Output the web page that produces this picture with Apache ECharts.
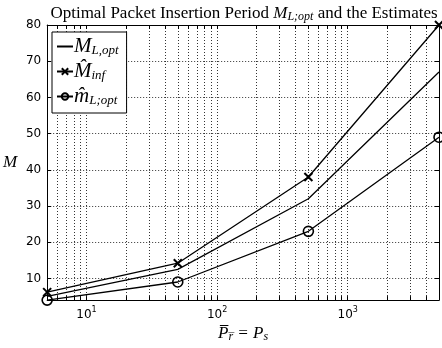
<!DOCTYPE html>
<html><head><meta charset="utf-8">
<script src="https://cdn.jsdelivr.net/npm/echarts@6/dist/echarts.min.js"></script>
<style>html,body{margin:0;padding:0;background:#fff}#c{width:442px;height:348px}</style>
</head><body><div id="c"></div>
<script>
// ---- data ----
const xValues = [5, 50, 500, 5000];
const mOpt = [5, 12.5, 32, 67];
const mInf = [6.2, 14.2, 38, 80];
const mHat = [4, 9, 23, 49];
const yTicks = [10, 20, 30, 40, 50, 60, 70, 80];
const xMajorTicks = [10, 100, 1000];
const xAllTicks = [6, 7, 8, 9, 10, 20, 30, 40, 50, 60, 70, 80, 90, 100, 200, 300, 400, 500, 600, 700, 800, 900, 1000, 2000, 3000, 4000];
const seriesNames = ['Mopt', 'Minf', 'mhat'];

const SERIF = "'Liberation Serif','DejaVu Serif',serif";
const SANS = "'DejaVu Sans','Liberation Sans',sans-serif";

function pairs(ys) { return xValues.map((x, i) => [x, ys[i]]); }

const chart = echarts.init(document.getElementById('c'), null, {renderer: 'canvas'});

const dotted = {type: [1, 2], color: '#333', width: 1};
const mathRich = {
  r: {fontFamily: SERIF, fontWeight: 'normal', fontSize: 17, color: '#000'},
  i: {fontFamily: SERIF, fontWeight: 'normal', fontStyle: 'italic', fontSize: 17, color: '#000'},
  s: {fontFamily: SERIF, fontWeight: 'normal', fontStyle: 'italic', fontSize: 12, color: '#000', padding: [6, 0, 0, 0]}
};

const legendRich = {
  i: {fontFamily: SERIF, fontStyle: 'italic', fontSize: 21, color: '#000'},
  s: {fontFamily: SERIF, fontStyle: 'italic', fontSize: 13, color: '#000', padding: [8, 0, 0, 0]}
};
const legendText = {
  Mopt: '{i|M}{s|L,opt}',
  Minf: '{i|M\u0302}{s|inf}',
  mhat: '{i|m\u0302}{s|L;opt}'
};

const xAxisBase = {
  type: 'log', logBase: 10, min: 5, max: 5000,
  axisLine: {show: true, onZero: false, lineStyle: {color: '#000', width: 1}},
  axisTick: {show: true, inside: true, length: 4, customValues: xAllTicks, lineStyle: {color: '#000'}},
  splitLine: {show: false},
  minorTick: {show: false}
};
const yAxisBase = {
  type: 'value', min: 4, max: 80,
  axisLine: {show: true, onZero: false, lineStyle: {color: '#000', width: 1}},
  axisTick: {show: true, inside: true, length: 4, customValues: yTicks, lineStyle: {color: '#000'}},
  splitLine: {show: false}
};

chart.setOption({
  animation: false,
  backgroundColor: '#fff',
  title: {
    text: '{r|Optimal Packet Insertion Period }{i|M}{s|L;opt}{r| and the Estimates}',
    left: 239, top: 0, textAlign: 'center',
    textStyle: {fontWeight: 'normal', rich: mathRich}
  },
  grid: {left: 43, right: 3, top: 25, bottom: 33, containLabel: false},
  legend: {
    orient: 'vertical', left: 52, top: 32,
    backgroundColor: '#fff', borderColor: '#000', borderWidth: 1, borderRadius: 0,
    padding: [4, 8, 6, 4], itemGap: 4, itemWidth: 16, itemHeight: 8,
    data: [
      {name: 'Mopt', itemStyle: {opacity: 0}},
      {name: 'Minf'},
      {name: 'mhat'}
    ],
    formatter: n => legendText[n],
    textStyle: {rich: legendRich, padding: [0, 0, 0, -4]}
  },
  xAxis: [
    Object.assign({}, xAxisBase, {
      position: 'bottom',
      axisLabel: {
        show: true, customValues: xMajorTicks, margin: 6,
        formatter: v => '{b|10}{e|' + Math.round(Math.log10(v)) + '}',
        rich: {
          b: {fontFamily: SANS, fontSize: 12, color: '#000'},
          e: {fontFamily: SANS, fontSize: 8, color: '#000', padding: [0, 0, 9, 0]}
        }
      },
      splitLine: {show: true, lineStyle: dotted},
      name: 'P\u0305{s|r\u0305} = P{s|s}',
      nameLocation: 'middle', nameGap: 22,
      nameTextStyle: {fontFamily: SERIF, fontStyle: 'italic', fontSize: 17, color: '#000',
        rich: {s: {fontFamily: SERIF, fontStyle: 'italic', fontSize: 12, color: '#000', padding: [6, 0, 0, 0]}}}
    }),
    Object.assign({}, xAxisBase, {position: 'top', axisLabel: {show: false}})
  ],
  yAxis: [
    Object.assign({}, yAxisBase, {
      position: 'left',
      axisLabel: {show: true, customValues: yTicks, margin: 6, fontFamily: SANS, fontSize: 12, color: '#000'},
      splitLine: {show: true, lineStyle: dotted},
      name: 'M', nameLocation: 'middle', nameGap: 30, nameRotate: 0,
      nameTextStyle: {fontFamily: SERIF, fontStyle: 'italic', fontSize: 17, color: '#000', padding: [0, 0, 24, 0]}
    }),
    Object.assign({}, yAxisBase, {position: 'right', axisLabel: {show: false}})
  ],
  series: [
    {name: 'Mopt', type: 'line', data: pairs(mOpt), symbol: 'none',
     lineStyle: {color: '#000', width: 1.3}, itemStyle: {color: '#000'}},
    {name: 'Minf', type: 'line', data: pairs(mInf), symbol: 'path://M0,0L10,10M10,0L0,10', symbolSize: 8,
     lineStyle: {color: '#000', width: 1.3},
     itemStyle: {color: 'none', borderColor: '#000', borderWidth: 2}},
    {name: 'mhat', type: 'line', data: pairs(mHat), symbol: 'circle', symbolSize: 10,
     lineStyle: {color: '#000', width: 1.3},
     itemStyle: {color: 'none', borderColor: '#000', borderWidth: 1.6}}
  ]
});
</script></body></html>
